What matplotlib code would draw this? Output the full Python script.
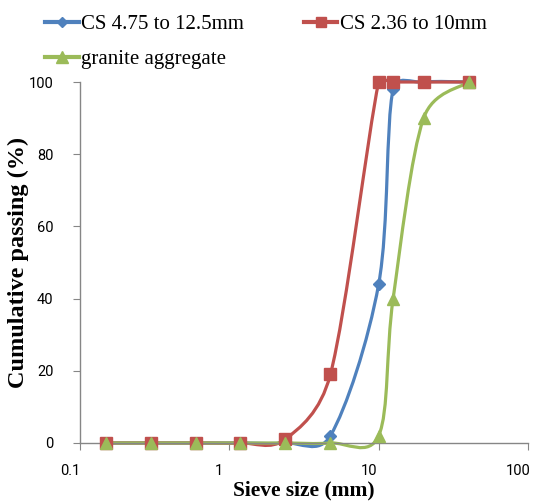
import numpy as np
import matplotlib
matplotlib.use("Agg")
import matplotlib.pyplot as plt
from matplotlib.path import Path
from matplotlib.patches import PathPatch
from matplotlib.lines import Line2D
import matplotlib.transforms as mtransforms
from matplotlib import font_manager

# sieve sizes (mm) and cumulative passing (%)
sieve = [0.15, 0.3, 0.6, 1.18, 2.36, 4.75, 10, 12.5, 20, 40]
cs_475_125 = [0, 0, 0, 0, 0, 2, 44, 98, 100, 100]
cs_236_10 = [0, 0, 0, 0, 1, 19, 100, 100, 100, 100]
granite = [0, 0, 0, 0, 0, 0, 2, 40, 90, 100]

labels = ["CS 4.75 to 12.5mm", "CS 2.36 to 10mm", "granite aggregate"]
colors = ["#4F81BD", "#C0504D", "#9BBB59"]
markers = ["D", "s", "^"]
msizes = [6, 8, 9]

names = {f.name for f in font_manager.fontManager.ttflist}
tick_font = "Liberation Sans Narrow" if "Liberation Sans Narrow" in names else "Roboto"

fig = plt.figure(figsize=(5.4, 5.03), dpi=100)
ax = fig.add_axes([80 / 540, 60 / 503, 448 / 540, 361 / 503])
ax.set_xscale("log")
ax.set_xlim(0.1, 100)
ax.set_ylim(0, 100)

# rough pixel size of one decade / one percent, for excel-like smoothing
px_u = 448 / 3.0
px_v = 361 / 100.0


def smooth_path(xs, ys):
    # excel style bezier smoothing in (log10 x, y) space
    p = np.column_stack([np.log10(xs) * px_u, np.array(ys, float) * px_v])
    n = len(p)
    verts = [p[0]]
    codes = [Path.MOVETO]
    for i in range(n - 1):
        p0 = p[i - 1] if i > 0 else p[i]
        p1 = p[i]
        p2 = p[i + 1]
        p3 = p[i + 2] if i + 2 < n else p[i + 1]
        d12 = np.hypot(*(p2 - p1))
        t1 = (p2 - p0) / 6.0
        t2 = (p3 - p1) / 6.0
        if np.hypot(*t1) > d12 / 2:
            t1 = t1 * (d12 / 2) / np.hypot(*t1)
        if np.hypot(*t2) > d12 / 2:
            t2 = t2 * (d12 / 2) / np.hypot(*t2)
        verts += [p1 + t1, p2 - t2, p2]
        codes += [Path.CURVE4] * 3
    verts = np.array(verts)
    verts[:, 0] /= px_u
    verts[:, 1] /= px_v
    return Path(verts, codes)


trans = ax.transLimits + ax.transAxes
series = [cs_475_125, cs_236_10, granite]
for ys, c, m, ms in zip(series, colors, markers, msizes):
    patch = PathPatch(smooth_path(sieve, ys), transform=trans, fill=False,
                      edgecolor=c, lw=2.3, clip_on=False, zorder=2)
    ax.add_patch(patch)
    ax.plot(sieve, ys, ls="none", marker=m, ms=ms, color=c, mec=c,
            clip_on=False, zorder=3)

for s in ["top", "right"]:
    ax.spines[s].set_visible(False)
for s in ["left", "bottom"]:
    ax.spines[s].set_color("#868686")
    ax.spines[s].set_linewidth(1.0)

ax.set_yticks([0, 20, 40, 60, 80, 100])
ax.set_xticks([0.1, 1, 10, 100])
ax.set_xticklabels(["0.1", "1", "10", "100"])
ax.minorticks_off()
ax.tick_params(axis="y", direction="out", length=5, color="#868686",
               pad=14, labelsize=10.5)
ax.tick_params(axis="x", direction="out", length=5, color="#868686",
               pad=10, labelsize=10.5)
for lab in ax.get_xticklabels() + ax.get_yticklabels():
    lab.set_fontfamily(tick_font)
off = mtransforms.ScaledTranslation(-10 / 100, 0, fig.dpi_scale_trans)
for lab in ax.get_xticklabels():
    lab.set_transform(lab.get_transform() + off)

ax.set_xlabel("Sieve size (mm)", family="Liberation Serif", weight="bold",
              fontsize=15.5, labelpad=2)
ax.set_ylabel("Cumulative passing (%)", family="Liberation Serif",
              weight="bold", fontsize=17.5, labelpad=0)

handles = [Line2D([], [], color=c, lw=3, marker=m, ms=ms * 0.9, mec=c)
           for c, m, ms in zip(colors, markers, msizes)]
order = [0, 2, 1]
fig.legend([handles[i] for i in order], [labels[i] for i in order],
           loc="upper left", bbox_to_anchor=(35 / 540, 1 - 4 / 503), ncol=2,
           frameon=False, prop={"family": "Liberation Serif", "size": 15},
           handlelength=1.6, handletextpad=0.1, columnspacing=2.9,
           labelspacing=0.75, borderaxespad=0.1)

fig.savefig("out.png", dpi=100)
